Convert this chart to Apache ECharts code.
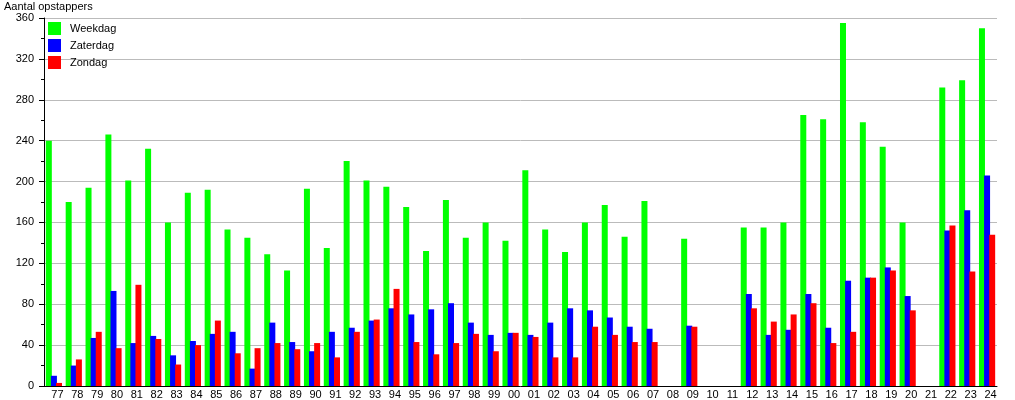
<!DOCTYPE html>
<html>
<head>
<meta charset="utf-8">
<script src="https://cdn.jsdelivr.net/npm/echarts@6/dist/echarts.min.js"></script>
<style>
html,body{margin:0;padding:0;background:#fff;}
#chart{width:1015px;height:400px;}
</style>
</head>
<body>
<div id="chart"></div>
<script>
const categories = ['77','78','79','80','81','82','83','84','85','86','87','88','89','90','91','92','93','94','95','96','97','98','99','00','01','02','03','04','05','06','07','08','09','10','11','12','13','14','15','16','17','18','19','20','21','22','23','24'];
const weekdag  = [240,180,194,246,201,232,160,189,192,153,145,129,113,193,135,220,201,195,175,132,182,145,160,142,211,153,131,160,177,146,181,null,144,null,null,155,155,160,265,261,355,258,234,160,null,292,299,350];
const zaterdag = [10,20,47,93,42,49,30,44,51,53,17,62,43,34,53,57,64,76,70,75,81,62,50,52,50,62,76,74,67,58,56,null,59,null,null,90,50,55,90,57,103,106,116,88,null,152,172,206];
const zondag   = [3,26,53,37,99,46,21,40,64,32,37,42,36,42,28,53,65,95,43,31,42,51,34,52,48,28,28,58,50,43,43,null,58,null,null,76,63,70,81,42,53,106,113,74,null,157,112,148];
const seriesNames = ['Weekdag','Zaterdag','Zondag'];
const yTitle = 'Aantal opstappers';

const FONT = '"Liberation Sans", Arial, sans-serif';
const chart = echarts.init(document.getElementById('chart'));
const mk = (name, data, color) => ({
  name, type: 'bar', data, barWidth: 6, barGap: '-15%',
  itemStyle: { color }, animation: false
});
chart.setOption({
  animation: false,
  textStyle: { fontFamily: FONT },
  title: { text: yTitle, left: 4, top: 1, padding: 0, textStyle: { fontSize: 11, fontWeight: 'normal', color: '#000', fontFamily: FONT } },
  legend: {
    orient: 'vertical', left: 48, top: 22, padding: 0, itemWidth: 13, itemHeight: 13, itemGap: 4,
    icon: 'rect', textStyle: { fontSize: 11, color: '#000', fontFamily: FONT, padding: [0,0,0,4] },
    data: seriesNames
  },
  grid: { left: 44, right: 18, top: 18, bottom: 12, containLabel: false },
  xAxis: {
    type: 'category', data: categories,
    axisLine: { lineStyle: { color: '#000', width: 1 } },
    axisTick: { show: false },
    axisLabel: { color: '#000', fontSize: 11, fontFamily: FONT, margin: 3, interval: 0, padding: [0,0,0,7] }
  },
  yAxis: {
    type: 'value', min: 0, max: 360, interval: 40,
    axisLine: { show: true, lineStyle: { color: '#000', width: 1 } },
    axisTick: { show: true, length: 5, lineStyle: { color: '#000' } },
    minorTick: { show: true, splitNumber: 2, length: 3, lineStyle: { color: '#000' } },
    splitLine: { show: true, lineStyle: { color: '#bbbbbb', width: 1 } },
    axisLabel: { color: '#000', fontSize: 11, fontFamily: FONT, margin: 10 }
  },
  series: [
    mk(seriesNames[0], weekdag, '#00ff00'),
    mk(seriesNames[1], zaterdag, '#0000ff'),
    mk(seriesNames[2], zondag, '#ff0000')
  ]
});
</script>
</body>
</html>
